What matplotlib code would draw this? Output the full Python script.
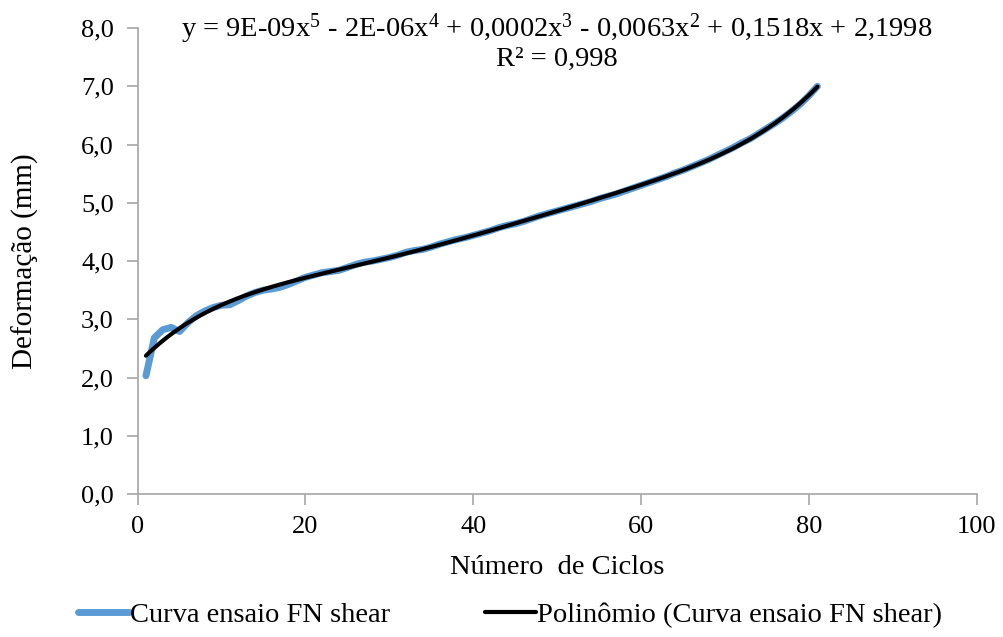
import numpy as np
import matplotlib
matplotlib.use("Agg")
import matplotlib.pyplot as plt

plt.rcParams['font.family'] = ['Liberation Serif', 'DejaVu Serif']
plt.rcParams['mathtext.default'] = 'regular'

# ciclos e deformacao
ciclos = list(range(1, 82))
deformacao = [
    2.03, 2.68, 2.82, 2.86, 2.79, 2.94, 3.06, 3.14, 3.20, 3.24,
    3.25, 3.32, 3.40, 3.46, 3.50, 3.52, 3.55, 3.60, 3.66, 3.72,
    3.76, 3.80, 3.82, 3.84, 3.89, 3.94, 3.98, 4.00, 4.03, 4.06,
    4.10, 4.15, 4.18, 4.20, 4.24, 4.29, 4.33, 4.37, 4.40, 4.44,
    4.48, 4.52, 4.57, 4.61, 4.64, 4.68, 4.73, 4.78, 4.82, 4.86,
    4.90, 4.94, 4.98, 5.02, 5.07, 5.11, 5.15, 5.20, 5.25, 5.30,
    5.35, 5.40, 5.45, 5.51, 5.56, 5.62, 5.68, 5.74, 5.81, 5.88,
    5.95, 6.03, 6.10, 6.19, 6.28, 6.37, 6.47, 6.58, 6.70, 6.84,
    7.00,
]
x_ticks = [0, 20, 40, 60, 80, 100]
y_ticks = [0, 1, 2, 3, 4, 5, 6, 7, 8]

equacao = (r"y = 9E-09x$^5$ - 2E-06x$^4$ + 0,0002x$^3$ - 0,0063x$^2$"
           r" + 0,1518x + 2,1998" "\nR² = 0,998")

# linha de tendencia polinomial (ordem 5), como no Excel
coef = np.polyfit(ciclos, deformacao, 5)
xf = np.linspace(ciclos[0], ciclos[-1], 300)
yf = np.polyval(coef, xf)

fig = plt.figure(figsize=(10.04, 6.37), dpi=100)
ax = fig.add_axes([0.137, 0.2245, 0.836, 0.7315])

ax.plot(ciclos, deformacao, color='#5B9BD5', lw=5, solid_capstyle='round',
        label='Curva ensaio FN shear')
ax.plot(xf, yf, color='black', lw=3, solid_capstyle='round',
        label='Polinômio (Curva ensaio FN shear)')

ax.set_xlim(0, 100)
ax.set_ylim(0, 8)
ax.set_xticks(x_ticks)
ax.set_yticks(y_ticks)
ax.set_xticklabels([str(t) for t in x_ticks])
ax.set_yticklabels([f"{t:.1f}".replace('.', ',') for t in y_ticks])

for s in ['top', 'right']:
    ax.spines[s].set_visible(False)
for s in ['left', 'bottom']:
    ax.spines[s].set_color('#A6A6A6')
    ax.spines[s].set_linewidth(1.2)
ax.tick_params(colors='#A6A6A6', labelcolor='black', labelsize=19,
               length=8, width=1.2)
ax.tick_params(axis='x', pad=8)
ax.tick_params(axis='y', pad=9)

ax.set_xlabel('Número  de Ciclos', fontsize=20.5, labelpad=12)
ax.set_ylabel('Deformação (mm)', fontsize=21, labelpad=30)

ax.text(0.5, 1.035, equacao, transform=ax.transAxes, ha='center', va='top',
        fontsize=20.5, linespacing=1.05)

fig.legend(loc='lower center', bbox_to_anchor=(0.508, -0.026), ncol=2,
           frameon=False, fontsize=20.5, handlelength=1.8, handletextpad=0.05,
           columnspacing=3.3)

fig.savefig('out.png', dpi=100)
